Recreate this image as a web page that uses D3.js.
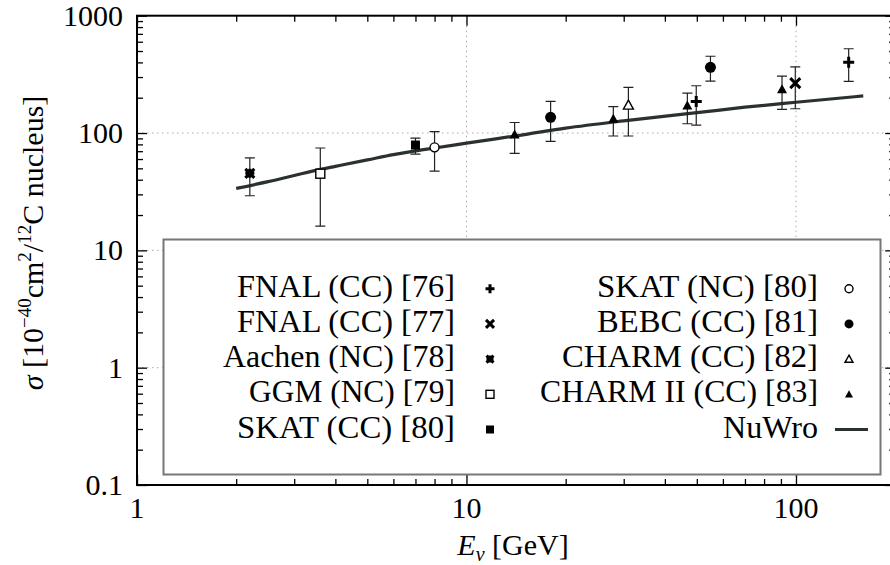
<!DOCTYPE html>
<html>
<head>
<meta charset="utf-8">
<script src="https://cdn.jsdelivr.net/npm/d3@7"></script>
<style>
  body { margin: 0; background: #fff; }
  text { font-family: "Liberation Serif", "DejaVu Serif", "Noto Serif", "Nimbus Roman", "FreeSerif", "Tinos", "Times New Roman", Times, serif; }
</style>
</head>
<body>
<svg id="chart" width="890" height="565"></svg>
<script>
// measurements: [E (GeV), sigma, lower, upper]
const fnal76 = [[49.8, 186, 117, 253], [144.5, 401, 276, 523]];
const fnal77 = [[99.5, 266, 161, 367]];
const aachen = [[2.2, 45.3, 29.2, 61.5]];
const ggm = [[3.6, 45, 16.1, 74.5]];
const skatCC = [[7.0, 79, 66.2, 90.6]];
const skatNC = [[8.0, 75.5, 47.4, 102.6]];
const bebc = [[18, 136, 85, 186], [55, 363, 277, 451]];
const charm = [[31, 173, 94.3, 245]];
const charm2 = [[14, 97, 67.2, 123], [27.9, 132.5, 94.3, 167.6], [46.8, 172, 120, 219], [90.7, 236, 159, 306]];

// NuWro prediction
const nuwroE = [2, 2.5, 3, 3.6, 4, 5, 6, 7, 8, 10, 15, 20, 30, 50, 70, 100, 160];
const nuwroXs = [33.7, 38.5, 43.5, 49, 52, 59, 65.5, 70.5, 74.5, 82, 97, 110, 127, 149, 166, 183, 207];

const xMajor = [1, 10, 100];
const yMajor = [0.1, 1, 10, 100, 1000];
const xTickLabels = ["1", "10", "100"];
const yTickLabels = ["0.1", "1", "10", "100", "1000"];

const legendLeft = ["FNAL (CC) [76]", "FNAL (CC) [77]", "Aachen (NC) [78]", "GGM (NC) [79]", "SKAT (CC) [80]"];
const legendRight = ["SKAT (NC) [80]", "BEBC (CC) [81]", "CHARM (CC) [82]", "CHARM II (CC) [83]", "NuWro"];
// label widths as set in the original
const legendLeftW = [218, 218, 232, 206, 218];
const legendRightW = [221, 221, 256, 278, 95];

const svg = d3.select("#chart");
const pL = 137, pT = 15.7, pB = 485, decadeX = 329.5;

const x = d3.scaleLog().domain([1, 200]).range([pL, pL + Math.log10(200) * decadeX]);
const y = d3.scaleLog().domain([0.1, 1000]).range([pB, pT]);
const pR = x.range()[1];

// minor tick values
let xMinor = [], yMinor = [];
[1, 10, 100].forEach(d => { for (let k = 2; k <= 9; k++) if (d * k < 200) xMinor.push(d * k); });
[0.1, 1, 10, 100].forEach(d => { for (let k = 2; k <= 9; k++) yMinor.push(+(d * k).toPrecision(3)); });

// grid
const grid = svg.append("g").attr("stroke", "#aaa").attr("stroke-width", 1).attr("stroke-dasharray", "1.5,3.5");
grid.selectAll(".gx").data([10, 100]).join("line")
  .attr("x1", d => x(d)).attr("x2", d => x(d)).attr("y1", pT).attr("y2", pB);
grid.selectAll(".gy").data([1, 10, 100]).join("line")
  .attr("x1", pL).attr("x2", pR).attr("y1", d => y(d)).attr("y2", d => y(d));

// axes (ticks inward on all four sides)
function addAxis(axisFn, scale, vals, size, tr) {
  const g = svg.append("g").attr("transform", tr)
    .call(axisFn(scale).tickValues(vals).tickSize(size).tickFormat(""));
  g.select(".domain").remove();
  g.selectAll("line").attr("stroke", "#000").attr("stroke-width", 1.3);
}
addAxis(d3.axisBottom, x, xMajor, -10, `translate(0,${pB})`);
addAxis(d3.axisBottom, x, xMinor, -6, `translate(0,${pB})`);
addAxis(d3.axisTop, x, xMajor, -10, `translate(0,${pT})`);
addAxis(d3.axisTop, x, xMinor, -6, `translate(0,${pT})`);
addAxis(d3.axisLeft, y, yMajor, -10, `translate(${pL},0)`);
addAxis(d3.axisLeft, y, yMinor, -6, `translate(${pL},0)`);
addAxis(d3.axisRight, y, yMajor, -10, `translate(${pR},0)`);
addAxis(d3.axisRight, y, yMinor, -6, `translate(${pR},0)`);

svg.append("rect").attr("x", pL).attr("y", pT)
  .attr("width", pR - pL).attr("height", pB - pT)
  .attr("fill", "none").attr("stroke", "#000").attr("stroke-width", 2);

// tick labels
svg.selectAll(".xl").data(xMajor).join("text")
  .attr("x", d => x(d)).attr("y", pB + 33)
  .attr("text-anchor", "middle").attr("font-size", 30)
  .text((d, i) => xTickLabels[i]);
svg.selectAll(".yl").data(yMajor).join("text")
  .attr("x", pL - 14).attr("y", d => y(d) + 10)
  .attr("text-anchor", "end").attr("font-size", 30)
  .text((d, i) => yTickLabels[i]);

// axis titles
const xt = svg.append("text").attr("x", 513).attr("y", 555).attr("text-anchor", "middle").attr("font-size", 30);
xt.append("tspan").attr("font-style", "italic").text("E");
xt.append("tspan").attr("font-style", "italic").attr("font-size", 20).attr("dy", 6).text("ν");
xt.append("tspan").attr("dy", -6).text(" [GeV]");

const yt = svg.append("text").attr("transform", "translate(43,243) rotate(-90)")
  .attr("text-anchor", "middle").attr("font-size", 30);
yt.append("tspan").attr("font-style", "italic").text("σ");
yt.append("tspan").text(" [10");
yt.append("tspan").attr("font-size", 19).attr("dy", -12).text("−40");
yt.append("tspan").attr("dy", 12).text("cm");
yt.append("tspan").attr("font-size", 19).attr("dy", -12).text("2");
yt.append("tspan").attr("dy", 12).text("/");
yt.append("tspan").attr("font-size", 19).attr("dy", -12).text("12");
yt.append("tspan").attr("dy", 12).text("C nucleus]");

// NuWro curve
const line = d3.line().curve(d3.curveMonotoneX).x(d => x(d[0])).y(d => y(d[1]));
svg.append("path").datum(nuwroE.map((e, i) => [e, nuwroXs[i]]))
  .attr("d", line).attr("fill", "none").attr("stroke", "#2b3131").attr("stroke-width", 3.2);

// marker shapes
function drawMarker(g, type, s) {
  const h = s / 2;
  if (type === "plus") {
    g.append("path").attr("d", `M${-h},0H${h}M0,${-h}V${h}`).attr("stroke", "#000").attr("stroke-width", 3);
  } else if (type === "cross") {
    g.append("path").attr("d", `M${-h},${-h}L${h},${h}M${-h},${h}L${h},${-h}`).attr("stroke", "#000").attr("stroke-width", 3);
  } else if (type === "star") {
    g.append("path").attr("d", `M${-h},${-h}L${h},${h}M${-h},${h}L${h},${-h}M${-h},0H${h}M0,${-h}V${h}`)
      .attr("stroke", "#000").attr("stroke-width", 3);
  } else if (type === "square") {
    g.append("rect").attr("x", -h).attr("y", -h).attr("width", s).attr("height", s)
      .attr("fill", "#fff").attr("stroke", "#000").attr("stroke-width", 1.4);
  } else if (type === "fsquare") {
    g.append("rect").attr("x", -h).attr("y", -h).attr("width", s).attr("height", s).attr("fill", "#000");
  } else if (type === "circle") {
    g.append("circle").attr("r", h).attr("fill", "#fff").attr("stroke", "#000").attr("stroke-width", 1.4);
  } else if (type === "fcircle") {
    g.append("circle").attr("r", h).attr("fill", "#000");
  } else if (type === "tri") {
    g.append("path").attr("d", `M0,${-h}L${h},${h * 0.8}L${-h},${h * 0.8}Z`)
      .attr("fill", "#fff").attr("stroke", "#000").attr("stroke-width", 1.4);
  } else if (type === "ftri") {
    g.append("path").attr("d", `M0,${-h}L${h},${h * 0.8}L${-h},${h * 0.8}Z`).attr("fill", "#000");
  }
}

const sets = [
  { data: fnal76, type: "plus", s: 11, ls: 9 },
  { data: fnal77, type: "cross", s: 10, ls: 8 },
  { data: aachen, type: "star", s: 9, ls: 7 },
  { data: ggm, type: "square", s: 9, ls: 8 },
  { data: skatCC, type: "fsquare", s: 9, ls: 8 },
  { data: skatNC, type: "circle", s: 9, ls: 8 },
  { data: bebc, type: "fcircle", s: 11, ls: 9 },
  { data: charm, type: "tri", s: 10, ls: 8 },
  { data: charm2, type: "ftri", s: 10, ls: 8 }
];

// error bars
const eb = svg.append("g").attr("stroke", "#222").attr("stroke-width", 1.2).attr("fill", "none");
sets.forEach(set => {
  set.data.forEach(d => {
    const cx = x(d[0]);
    eb.append("path").attr("d",
      `M${cx},${y(d[2])}V${y(d[3])}M${cx - 5},${y(d[2])}H${cx + 5}M${cx - 5},${y(d[3])}H${cx + 5}`);
  });
});
sets.forEach(set => {
  set.data.forEach(d => {
    drawMarker(svg.append("g").attr("transform", `translate(${x(d[0])},${y(d[1])})`), set.type, set.s);
  });
});

// legend
svg.append("rect").attr("x", 163.5).attr("y", 239.5).attr("width", 717).attr("height", 235)
  .attr("fill", "#fff").attr("stroke", "#777").attr("stroke-width", 2);

const rowY = [0, 1, 2, 3, 4].map(i => 296.7 + i * 35.2);
function legendText(xr, yy, t, w) {
  svg.append("text").attr("x", xr).attr("y", yy).attr("text-anchor", "end")
    .attr("font-size", 31).attr("textLength", w).attr("lengthAdjust", "spacingAndGlyphs").text(t);
}
legendLeft.forEach((t, i) => {
  legendText(455, rowY[i], t, legendLeftW[i]);
  drawMarker(svg.append("g").attr("transform", `translate(490,${rowY[i] - 8})`), sets[i].type, sets[i].ls);
});
legendRight.forEach((t, i) => {
  legendText(818, rowY[i], t, legendRightW[i]);
  if (i < 4) {
    drawMarker(svg.append("g").attr("transform", `translate(849,${rowY[i] - 8})`), sets[i + 5].type, sets[i + 5].ls);
  } else {
    svg.append("line").attr("x1", 835).attr("x2", 868).attr("y1", rowY[i] - 8).attr("y2", rowY[i] - 8)
      .attr("stroke", "#2b3131").attr("stroke-width", 3.2);
  }
});
</script>
</body>
</html>
